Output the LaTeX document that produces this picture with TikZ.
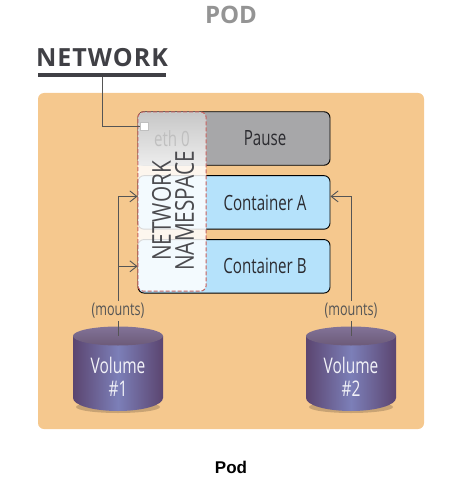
\documentclass[tikz,border=0pt]{standalone}
\usepackage{fontspec}
\setmainfont{Open Sans}
\newfontfamily\narrowfont[FakeStretch=0.72]{Open Sans}
\newfontfamily\nsfont[FakeStretch=0.8]{Open Sans}
\newfontfamily\spacedfont[LetterSpace=4]{Open Sans}
\newfontfamily\podfont{Liberation Sans}
\usetikzlibrary{arrows.meta,positioning}
\definecolor{podorange}{HTML}{F5C88E}
\definecolor{pausegray}{HTML}{A7A7A9}
\definecolor{contblue}{HTML}{B5E2FB}
\definecolor{linegray}{HTML}{555555}
\definecolor{inkgray}{HTML}{2B2B30}
\definecolor{voledge}{HTML}{5B4570}
\definecolor{volmid}{HTML}{7C7FB8}
\definecolor{voltop}{HTML}{827398}
\definecolor{volrim}{HTML}{6C5A78}
\definecolor{dashred}{HTML}{C4605C}

\begin{document}
\begin{tikzpicture}[x=1pt,y=-1pt,
    box/.style={draw=black, line width=0.9pt, rounded corners=6pt, minimum width=192pt, minimum height=53.5pt, inner sep=0pt,
        font=\narrowfont\fontsize{21}{24}\selectfont, text=inkgray},
    link/.style={draw=linegray, line width=0.9pt},
    mount/.style={link, -{Straight Barb[length=7pt,width=11pt]}},
    mountlabel/.style={font=\narrowfont\fontsize{17.5}{18}\selectfont, text=linegray, minimum height=20pt, inner sep=0pt},
    volume/.style={align=center, text=white!90!volmid, font=\narrowfont\fontsize{21.5}{23}\selectfont, minimum width=90pt, minimum height=68pt, inner sep=0pt}]

    \useasboundingbox (0,0) rectangle (466,481);

    \node[font=\fontsize{24}{26}\selectfont\bfseries, text=black!42] (title) at (231,15) {POD};
    \node[font=\spacedfont\fontsize{25}{27}\selectfont\bfseries, text=inkgray!90] (network) at (102,58) {NETWORK};
    \node[fill=inkgray!90, minimum width=128pt, minimum height=4.5pt, inner sep=0pt] (netbar) at (102,75) {};

    \node[fill=podorange, rounded corners=6pt, minimum width=386pt, minimum height=336pt] (pod) at (231,261) {};

    \node[box, fill=pausegray] (pause) at (234,138.5) {\hspace*{62pt}Pause};
    \node[box, fill=contblue, below=9.5pt of pause] (contA) {\hspace*{62pt}Container A};
    \node[box, fill=contblue, below=9.5pt of contA] (contB) {\hspace*{62pt}Container B};

    % namespace strip over the three boxes
    \node[fill=white, fill opacity=0.85, rounded corners=6pt, minimum width=68pt, minimum height=179pt] (ns) at (172,201.5) {};
    \shade[top color=black!22, bottom color=black!7, rounded corners=0pt] (ns.west |- pause.south)
        {[rounded corners=6pt] -- (ns.north west) -- (ns.north east)} -- (ns.east |- pause.south) -- cycle;
    \draw[draw=dashred, line width=1pt, dash pattern=on 4pt off 2pt, rounded corners=6pt]
        (ns.south west) rectangle (ns.north east);

    \node[font=\narrowfont\fontsize{21}{24}\selectfont, text=black!25] (eth) at (172,139) {eth 0};
    \node[rotate=90, align=center, font=\nsfont\fontsize{26}{23}\selectfont, text=inkgray!85] (nstext) at (173,211) {NETWORK\\NAMESPACE};
    \node[fill=white, draw=black!25, line width=0.4pt, minimum size=7.5pt, inner sep=0pt] (port) at (144,126) {};

    \draw[link] (netbar.south) |- (port.west);

    % volumes
    \foreach \n/ \x in {1/118, 2/351}{
        \fill[black!60!podorange, opacity=0.3] (\x,407) ellipse [x radius=42, y radius=6];
        \path[left color=voledge, right color=voledge, middle color=volmid]
            (\x-45,336) -- (\x-45,398) arc[start angle=180, end angle=0, x radius=45, y radius=13] -- (\x+45,336) -- cycle;
        \shade[top color=voltop, bottom color=volrim] (\x,336) ellipse [x radius=45, y radius=9.5];
        \node[volume] (vol\n) at (\x,377) {Volume\\\#\n};
    }

    \node[mountlabel] (mountL) at (118,311) {(mounts)};
    \node[mountlabel] (mountR) at (351,311) {(mounts)};

    \draw[link] (mountL.south) -- ([yshift=7pt]vol1.north);
    \draw[link] (mountR.south) -- ([yshift=7pt]vol2.north);
    \draw[mount] (mountL.north) |- ([yshift=6pt]contA.west);
    \draw[mount] (mountL.north |- contB.west) -- (contB.west);
    \draw[mount] (mountR.north) |- ([yshift=6pt]contA.east);

    \node[font=\podfont\fontsize{17}{19}\selectfont\bfseries] (caption) at (231,467) {Pod};
\end{tikzpicture}
\end{document}
